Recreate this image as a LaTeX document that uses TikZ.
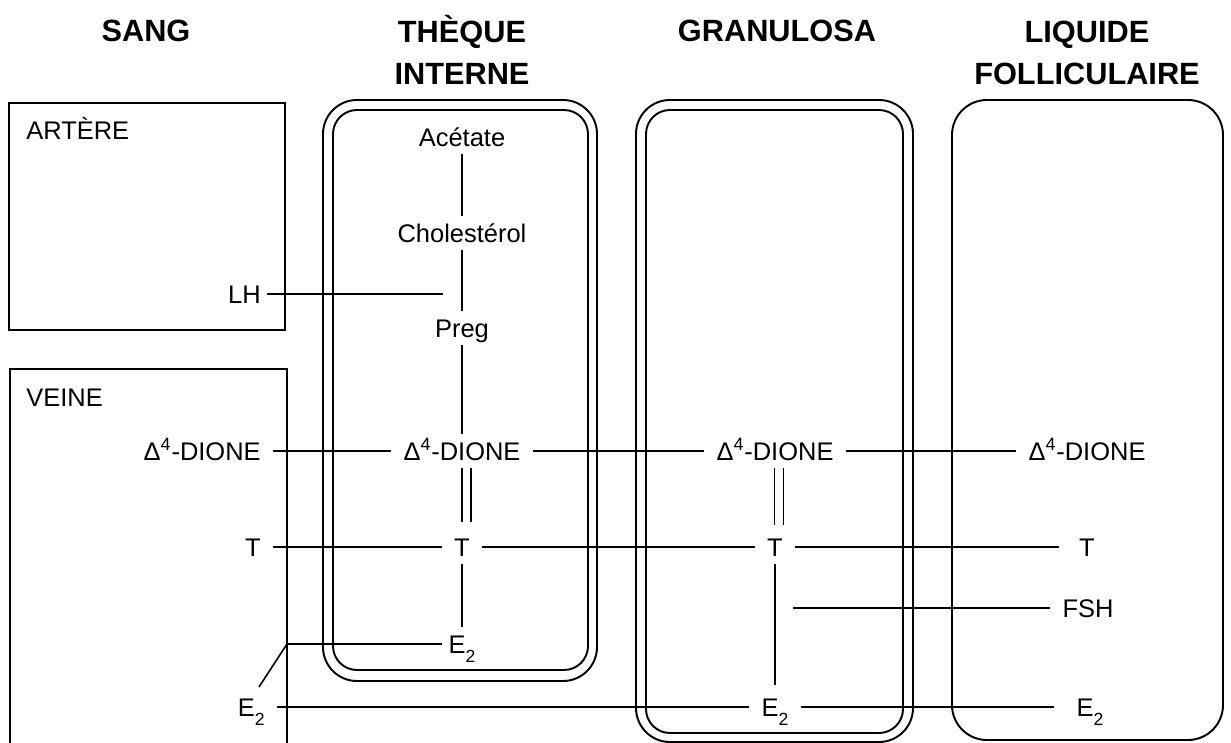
\documentclass[tikz,border=0pt]{standalone}
\usepackage{fontspec}
\setmainfont{Liberation Sans}
\newcommand{\estr}{E\raisebox{-0.7ex}{\fontsize{10}{10}\selectfont 2}}
\begin{document}
\begin{tikzpicture}[x=0.02cm, y=-0.02cm,
    box/.style={line width=1.1pt},
    link/.style={line width=0.9pt},
    dbl/.style={link, double, double distance=4.2pt},
    head/.style={font=\fontsize{17.5}{24.4}\selectfont\bfseries, align=center, anchor=base, inner sep=0pt},
    lbl/.style={font=\fontsize{14.5}{17}\selectfont, text height=10.4pt, text depth=0pt, inner xsep=6.8pt, inner ysep=4pt},
    tag/.style={font=\fontsize{14.5}{17}\selectfont, text height=10.4pt, text depth=0pt, anchor=west, inner sep=0pt}]
    \useasboundingbox (0,0) rectangle (1231,743);

    % column titles
    \node[head] (sang) at (146,42) {SANG};
    \node[head] (theque) at (462,85) {THÈQUE\\INTERNE};
    \node[head] (granulosa) at (777,42) {GRANULOSA};
    \node[head] (liquide) at (1087,85) {LIQUIDE\\FOLLICULAIRE};

    % compartments
    \draw[box] (9,103) rectangle (285,330);
    \draw[box] (10,743) -- (10,369) -- (287,369) -- (287,743);
    \draw[box, rounded corners=0.68cm] (323,100) rectangle (597,681);
    \draw[box, rounded corners=0.48cm] (333,110) rectangle (588,670);
    \draw[box, rounded corners=0.68cm] (636,100) rectangle (913,742);
    \draw[box, rounded corners=0.48cm] (646,110) rectangle (903,733);
    \draw[box, rounded corners=0.7cm] (952,100) rectangle (1223,740);

    \node[tag] (artere) at (26,130) {ARTÈRE};
    \node[tag] (veine) at (26,397) {VEINE};

    % sang
    \node[lbl, anchor=east] (lh) at (273,294) {LH};
    \node[lbl, anchor=east] (dioneV) at (273,451) {Δ\textsuperscript{4}-DIONE};
    \node[lbl, anchor=east] (tV) at (273,547) {T};
    \node[lbl, anchor=east] (e2V) at (277,707) {\estr};

    % theque interne
    \node[lbl] (acetate) at (462,137) {Acétate};
    \node[lbl] (chol) at (462,233) {Cholestérol};
    \node[lbl] (preg) at (462,328) {Preg};
    \node[lbl] (dioneT) at (462,451) {Δ\textsuperscript{4}-DIONE};
    \node[lbl] (tT) at (462,547) {T};
    \node[lbl] (e2T) at (462,644) {\estr};

    % granulosa
    \node[lbl] (dioneG) at (775,451) {Δ\textsuperscript{4}-DIONE};
    \node[lbl] (tG) at (775,547) {T};
    \node[lbl] (e2G) at (775,707) {\estr};

    % liquide folliculaire
    \node[lbl] (dioneL) at (1087,451) {Δ\textsuperscript{4}-DIONE};
    \node[lbl] (tL) at (1087,547) {T};
    \node[lbl] (fsh) at (1088,608) {FSH};
    \node[lbl] (e2L) at (1090,707) {\estr};

    \coordinate (lhEnd) at (443,294);
    \coordinate (fshEnd) at (793,608);
    \coordinate (veineJ) at (287,644);
    \coordinate (e2tick) at (259,687);

    % steroidogenesis
    \draw[link] (acetate) -- (chol);
    \draw[link] (chol) -- (preg);
    \draw[link] (preg) -- (dioneT);
    \draw[dbl, shorten >=5pt] ([xshift=2.55pt]dioneT.south) -- ([xshift=2.55pt]tT.north);
    \draw[link] (tT) -- (e2T);
    \draw[dbl, shorten >=3pt] ([xshift=2.3pt]dioneG.south) -- ([xshift=2.3pt]tG.north);
    \draw[link, shorten >=3pt] (tG) -- (e2G);

    % exchanges
    \draw[link, shorten <=-3.5pt] (lh) -- (lhEnd);
    \draw[link] (dioneV) -- (dioneT);
    \draw[link] (dioneT) -- (dioneG);
    \draw[link] (dioneG) -- (dioneL);
    \draw[link] (tV) -- (tT);
    \draw[link] (tT) -- (tG);
    \draw[link, shorten >=4.5pt] (tG) -- (tL);
    \draw[link] (fshEnd) -- (fsh);
    \draw[link, shorten >=-3pt] (veineJ) -- (e2T);
    \draw[link] (veineJ) -- (e2tick);
    \draw[link] (e2V) -- (e2G);
    \draw[link, shorten >=5.7pt] (e2G) -- (e2L);
\end{tikzpicture}
\end{document}
